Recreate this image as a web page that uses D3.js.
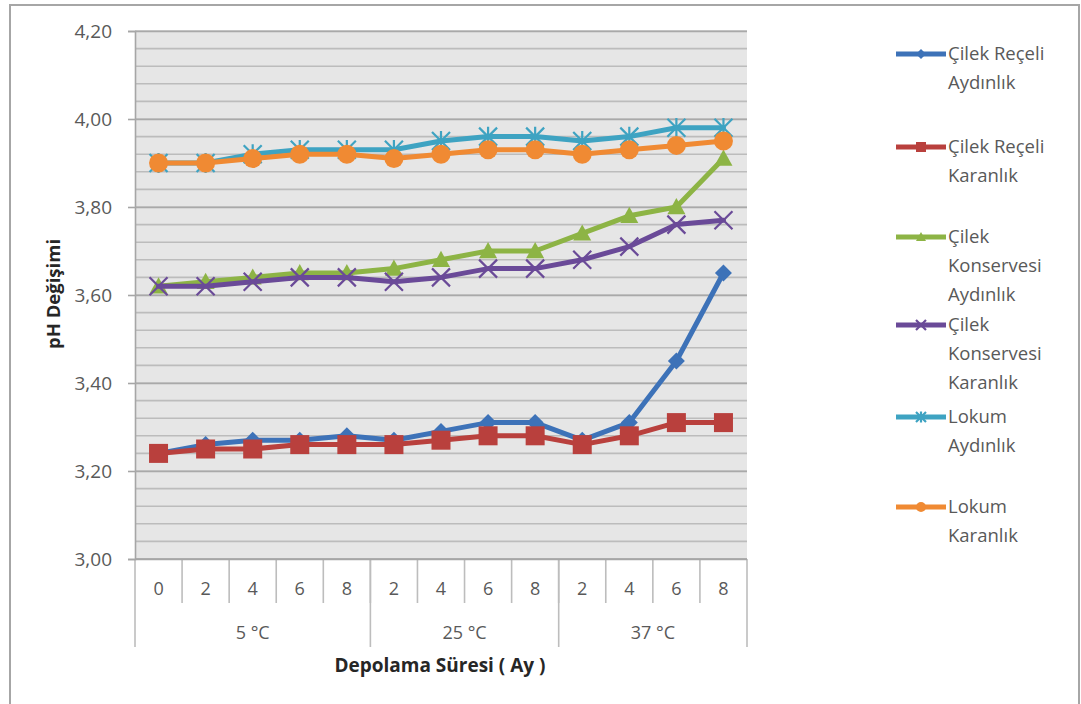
<!DOCTYPE html>
<html>
<head>
<meta charset="utf-8">
<script src="https://cdn.jsdelivr.net/npm/d3@7/dist/d3.min.js"></script>
<style>
  html, body { margin: 0; padding: 0; background: #fff; }
  svg { display: block; font-family: "Open Sans", Lato, sans-serif; }
</style>
</head>
<body>
<svg id="chart" width="1081" height="704"></svg>
<script>
// Storage months within each temperature group
const months = ["0", "2", "4", "6", "8", "2", "4", "6", "8", "2", "4", "6", "8"];
// Temperature groups: label and number of month columns in each
const groupLabels = ["5 °C", "25 °C", "37 °C"];
const groupSizes = [5, 4, 4];

// pH values per product / storage condition
const cilekReceliAydinlik = [3.24, 3.26, 3.27, 3.27, 3.28, 3.27, 3.29, 3.31, 3.31, 3.27, 3.31, 3.45, 3.65];
const cilekReceliKaranlik = [3.24, 3.25, 3.25, 3.26, 3.26, 3.26, 3.27, 3.28, 3.28, 3.26, 3.28, 3.31, 3.31];
const cilekKonservesiAydinlik = [3.62, 3.63, 3.64, 3.65, 3.65, 3.66, 3.68, 3.70, 3.70, 3.74, 3.78, 3.80, 3.91];
const cilekKonservesiKaranlik = [3.62, 3.62, 3.63, 3.64, 3.64, 3.63, 3.64, 3.66, 3.66, 3.68, 3.71, 3.76, 3.77];
const lokumAydinlik = [3.90, 3.90, 3.92, 3.93, 3.93, 3.93, 3.95, 3.96, 3.96, 3.95, 3.96, 3.98, 3.98];
const lokumKaranlik = [3.90, 3.90, 3.91, 3.92, 3.92, 3.91, 3.92, 3.93, 3.93, 3.92, 3.93, 3.94, 3.95];

const seriesNames = [
  ["Çilek Reçeli", "Aydınlık"],
  ["Çilek Reçeli", "Karanlık"],
  ["Çilek", "Konservesi", "Aydınlık"],
  ["Çilek", "Konservesi", "Karanlık"],
  ["Lokum", "Aydınlık"],
  ["Lokum", "Karanlık"]
];
const yTicks = [3.00, 3.20, 3.40, 3.60, 3.80, 4.00, 4.20];

const series = [
  { name: seriesNames[0], values: cilekReceliAydinlik, color: "#3d72b8", marker: "diamond" },
  { name: seriesNames[1], values: cilekReceliKaranlik, color: "#b9403d", marker: "square" },
  { name: seriesNames[2], values: cilekKonservesiAydinlik, color: "#8db445", marker: "triangle" },
  { name: seriesNames[3], values: cilekKonservesiKaranlik, color: "#6a4a98", marker: "x" },
  { name: seriesNames[4], values: lokumAydinlik, color: "#3ea3c2", marker: "star" },
  { name: seriesNames[5], values: lokumKaranlik, color: "#f08a33", marker: "circle" }
];

const svg = d3.select("#chart");
const plot = { left: 135, right: 747, top: 31, bottom: 559 };
const textColor = "#595959";

// Outer chart frame
svg.append("rect")
  .attr("x", 10).attr("y", 5).attr("width", 1069).attr("height", 720)
  .attr("fill", "#fff").attr("stroke", "#a6a6a6").attr("stroke-width", 2);

const x = d3.scaleBand().domain(d3.range(months.length)).range([plot.left, plot.right]);
const y = d3.scaleLinear().domain([3.0, 4.2]).range([plot.bottom, plot.top]);

// Category axis: month separators, temperature group separators and labels
const gx = svg.append("g");
const sepX = d3.range(1, months.length).map(i => x(i));
gx.append("path")
  .attr("d", sepX.map(px => `M${px},${plot.bottom}V603`).join(""))
  .attr("stroke", "#bdbdbd").attr("stroke-width", 1.6).attr("fill", "none");

const groupStarts = groupSizes.map((s, i) => d3.sum(groupSizes.slice(0, i)));
const edgeX = i => (i >= months.length ? plot.right : x(i));
const groupX = groupStarts.concat([months.length]).map(edgeX);
gx.append("path")
  .attr("d", groupX.map(px => `M${px},${plot.bottom}V647`).join(""))
  .attr("stroke", "#bdbdbd").attr("stroke-width", 1.6).attr("fill", "none");

gx.selectAll("text.month").data(months).join("text")
  .attr("class", "month")
  .attr("x", (d, i) => x(i) + x.bandwidth() / 2)
  .attr("y", 595)
  .attr("text-anchor", "middle")
  .attr("fill", textColor).attr("font-size", 18)
  .text(d => d);

gx.selectAll("text.grp").data(groupLabels).join("text")
  .attr("class", "grp")
  .attr("x", (d, i) => (edgeX(groupStarts[i]) + edgeX(groupStarts[i] + groupSizes[i])) / 2)
  .attr("y", 639)
  .attr("text-anchor", "middle")
  .attr("fill", textColor).attr("font-size", 18)
  .text(d => d);

// Plot background
svg.append("rect")
  .attr("x", plot.left).attr("y", plot.top)
  .attr("width", plot.right - plot.left).attr("height", plot.bottom - plot.top)
  .attr("fill", "#e6e6e6");

// Minor gridlines every 0.04
const minor = d3.range(0, 31).map(i => 3.0 + i * 0.04);
svg.append("g").selectAll("line").data(minor).join("line")
  .attr("x1", plot.left).attr("x2", plot.right)
  .attr("y1", d => y(d)).attr("y2", d => y(d))
  .attr("stroke", "#bcbcbc").attr("stroke-width", 1.6);

// Y axis with major gridlines
const yAxis = d3.axisLeft(y).tickValues(yTicks)
  .tickFormat(d => d3.format(".2f")(d).replace(".", ","))
  .tickSize(7).tickPadding(16);
const gy = svg.append("g").attr("transform", `translate(${plot.left},0)`).call(yAxis);
gy.select(".domain").attr("stroke", "#a6a6a6").attr("stroke-width", 1.6);
gy.selectAll(".tick line").attr("stroke", "#a6a6a6").attr("stroke-width", 1.6);
gy.selectAll(".tick text").attr("fill", textColor).attr("font-size", 19)
  .attr("font-family", "'Open Sans', sans-serif");
gy.selectAll(".tick").append("line")
  .attr("x1", 0).attr("x2", plot.right - plot.left).attr("y1", 0).attr("y2", 0)
  .attr("stroke", "#a9a9a9").attr("stroke-width", 1.6);

// Category axis baseline
svg.append("line")
  .attr("x1", plot.left).attr("x2", plot.right)
  .attr("y1", plot.bottom).attr("y2", plot.bottom)
  .attr("stroke", "#a6a6a6").attr("stroke-width", 1.6);

// Axis titles
svg.append("text")
  .attr("x", 440).attr("y", 672)
  .attr("text-anchor", "middle")
  .attr("font-weight", "bold").attr("font-size", 19).attr("fill", "#262626")
  .text("Depolama Süresi ( Ay )");
svg.append("text")
  .attr("transform", "translate(60,294) rotate(-90)")
  .attr("text-anchor", "middle")
  .attr("font-weight", "bold").attr("font-size", 18.5).attr("fill", "#262626")
  .text("pH Değişimi");

// Marker shapes
function drawMarker(g, type, color, size) {
  const s = size / 2;
  if (type === "diamond") {
    g.append("path").attr("d", `M0,${-s}L${s},0L0,${s}L${-s},0Z`).attr("fill", color);
  } else if (type === "square") {
    g.append("rect").attr("x", -s).attr("y", -s).attr("width", size).attr("height", size).attr("fill", color);
  } else if (type === "triangle") {
    g.append("path").attr("d", `M0,${-s}L${s},${s * 0.8}L${-s},${s * 0.8}Z`).attr("fill", color);
  } else if (type === "circle") {
    g.append("circle").attr("r", s).attr("fill", color);
  } else if (type === "x") {
    g.append("path").attr("d", `M${-s},${-s}L${s},${s}M${-s},${s}L${s},${-s}`)
      .attr("stroke", color).attr("stroke-width", 2.2).attr("fill", "none");
  } else if (type === "star") {
    g.append("path").attr("d", `M${-s},${-s}L${s},${s}M${-s},${s}L${s},${-s}M0,${-s * 1.1}L0,${s * 1.1}`)
      .attr("stroke", color).attr("stroke-width", 2.2).attr("fill", "none");
  }
}
const markerSize = { diamond: 17, square: 19, triangle: 18, circle: 19, x: 18, star: 18 };

const lineGen = d3.line()
  .x((d, i) => x(i) + x.bandwidth() / 2)
  .y(d => y(d));

series.forEach(s => {
  const g = svg.append("g");
  g.append("path").datum(s.values)
    .attr("d", lineGen)
    .attr("fill", "none")
    .attr("stroke", s.color).attr("stroke-width", 5)
    .attr("stroke-linejoin", "round").attr("stroke-linecap", "round");
  s.values.forEach((v, i) => {
    const m = g.append("g")
      .attr("transform", `translate(${x(i) + x.bandwidth() / 2},${y(v)})`);
    drawMarker(m, s.marker, s.color, markerSize[s.marker]);
  });
});

// Legend
const legendY = [54, 147, 237, 325, 417, 507];
const legend = svg.append("g");
series.forEach((s, i) => {
  const ly = legendY[i];
  const g = legend.append("g");
  g.append("line")
    .attr("x1", 896).attr("x2", 946).attr("y1", ly).attr("y2", ly)
    .attr("stroke", s.color).attr("stroke-width", 5);
  const m = g.append("g").attr("transform", `translate(921,${ly})`);
  drawMarker(m, s.marker, s.color, 10);
  s.name.forEach((t, j) => {
    g.append("text")
      .attr("x", 948).attr("y", ly + 6 + j * 29)
      .attr("fill", textColor).attr("font-size", 18.5)
      .text(t);
  });
});
</script>
</body>
</html>
